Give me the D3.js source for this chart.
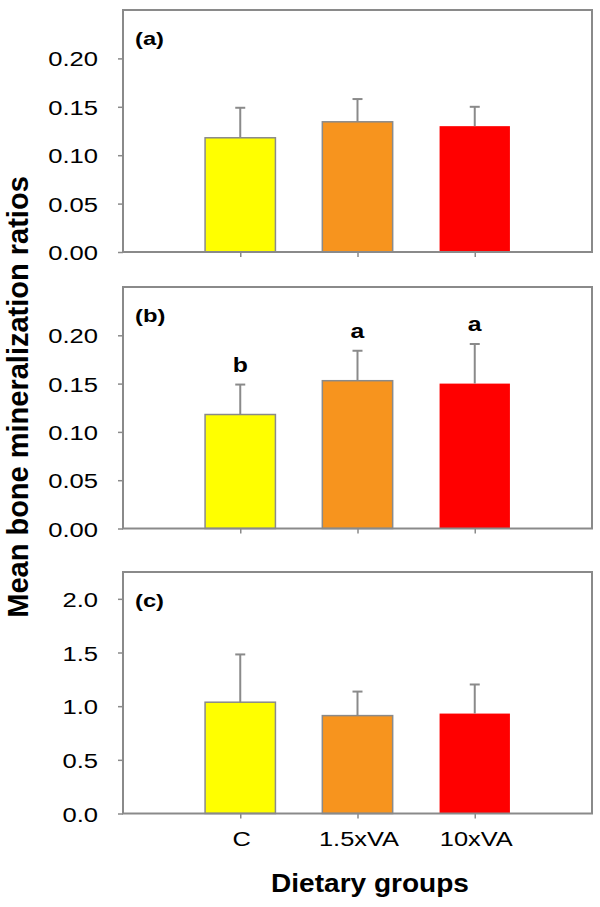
<!DOCTYPE html>
<html>
<head>
<meta charset="utf-8">
<script src="https://cdn.jsdelivr.net/npm/d3@7"></script>
<style>
  html, body { margin: 0; padding: 0; background: #fff; }
  svg { display: block; }
</style>
</head>
<body>
<svg id="chart" width="600" height="907"></svg>
<script>
// ---------- data ----------
const categories = ["C", "1.5xVA", "10xVA"];
const panelLabels = ["(a)", "(b)", "(c)"];
const meansA = [0.118, 0.1345, 0.130];
const errorsA = [0.031, 0.0235, 0.020];
const meansB = [0.118, 0.153, 0.150];
const errorsB = [0.031, 0.031, 0.041];
const meansC = [1.037, 0.912, 0.931];
const errorsC = [0.445, 0.224, 0.271];
const lettersA = ["", "", ""];
const lettersB = ["b", "a", "a"];
const lettersC = ["", "", ""];
const ticksAB = [0, 0.05, 0.10, 0.15, 0.20];
const ticksC = [0, 0.5, 1.0, 1.5, 2.0];
const yMaxes = [0.25, 0.25, 2.25];
const barColors = ["#FFFF00", "#F7941E", "#FF0000"];
const barStrokes = ["#8a8a8a", "#8a8a8a", "none"];
const yTitle = "Mean bone mineralization ratios";
const xTitle = "Dietary groups";

const panels = [
  { label: panelLabels[0], means: meansA, errs: errorsA, letters: lettersA, ticks: ticksAB, fmt: ".2f", yMax: yMaxes[0], top: 10, bottom: 252 },
  { label: panelLabels[1], means: meansB, errs: errorsB, letters: lettersB, ticks: ticksAB, fmt: ".2f", yMax: yMaxes[1], top: 287, bottom: 528.5 },
  { label: panelLabels[2], means: meansC, errs: errorsC, letters: lettersC, ticks: ticksC, fmt: ".1f", yMax: yMaxes[2], top: 572, bottom: 813.5 }
];

// ---------- layout ----------
const left = 123, right = 592;
const gray = "#8a8a8a";
const font = "'Liberation Sans', Arial, sans-serif";
const svg = d3.select("#chart");

const x = d3.scalePoint().domain(categories).range([left, right]).padding(1);
const barW = x.step() * 0.6;

panels.forEach((p, pi) => {
  const y = d3.scaleLinear().domain([0, p.yMax]).range([p.bottom, p.top]);
  const g = svg.append("g");

  // bars
  g.selectAll("rect.bar").data(categories).join("rect")
    .attr("class", "bar")
    .attr("x", d => x(d) - barW / 2)
    .attr("width", barW)
    .attr("y", (d, i) => y(p.means[i]))
    .attr("height", (d, i) => y(0) - y(p.means[i]))
    .attr("fill", (d, i) => barColors[i])
    .attr("stroke", (d, i) => barStrokes[i])
    .attr("stroke-width", 1.5);

  // error bars (upper only)
  g.selectAll("line.err").data(categories).join("line")
    .attr("x1", d => x(d)).attr("x2", d => x(d))
    .attr("y1", (d, i) => y(p.means[i]))
    .attr("y2", (d, i) => y(p.means[i] + p.errs[i]))
    .attr("stroke", gray).attr("stroke-width", 2);
  g.selectAll("line.cap").data(categories).join("line")
    .attr("x1", d => x(d) - 5).attr("x2", d => x(d) + 5)
    .attr("y1", (d, i) => y(p.means[i] + p.errs[i]))
    .attr("y2", (d, i) => y(p.means[i] + p.errs[i]))
    .attr("stroke", gray).attr("stroke-width", 2);

  // significance letters
  g.selectAll("text.sig").data(categories).join("text")
    .attr("transform", (d, i) => `translate(${x(d)},${y(p.means[i] + p.errs[i]) - 13}) scale(1.18,1)`)
    .attr("text-anchor", "middle")
    .attr("font-family", font).attr("font-weight", "bold").attr("font-size", 21)
    .attr("fill", "#000")
    .text((d, i) => p.letters[i]);

  // frame
  g.append("rect")
    .attr("x", left).attr("y", p.top)
    .attr("width", right - left).attr("height", p.bottom - p.top)
    .attr("fill", "none").attr("stroke", gray).attr("stroke-width", 2);

  // y axis
  const ya = g.append("g").attr("transform", `translate(${left},0)`)
    .call(d3.axisLeft(y).tickValues(p.ticks).tickFormat(d3.format(p.fmt)).tickSize(5).tickPadding(0));
  ya.select(".domain").remove();
  ya.selectAll(".tick line").attr("stroke", gray).attr("stroke-width", 1.5);
  ya.selectAll(".tick text")
    .attr("x", null).attr("dy", null)
    .attr("transform", "translate(-25,7.5) scale(1.22,1)")
    .attr("font-family", font).attr("font-size", 21).attr("fill", "#000");

  // x axis ticks
  const xa = g.append("g").attr("transform", `translate(0,${p.bottom})`)
    .call(d3.axisBottom(x).tickSize(5).tickFormat(pi === 2 ? (d => d) : (() => "")));
  xa.select(".domain").remove();
  xa.selectAll(".tick line").attr("stroke", gray).attr("stroke-width", 1.5);
  xa.selectAll(".tick text")
    .attr("y", null).attr("dy", null)
    .attr("transform", "translate(1,32) scale(1.24,1)")
    .attr("font-family", font).attr("font-size", 20.5).attr("fill", "#000");

  // panel label
  g.append("text")
    .attr("transform", `translate(135,${p.top + 35}) scale(1.25,1)`)
    .attr("font-family", font).attr("font-weight", "bold").attr("font-size", 19)
    .attr("fill", "#000")
    .text(p.label);
});

// axis titles
svg.append("text")
  .attr("transform", "translate(28,397) rotate(-90)")
  .attr("text-anchor", "middle")
  .attr("font-family", font).attr("font-weight", "bold").attr("font-size", 29)
  .attr("fill", "#000")
  .text(yTitle);

svg.append("text")
  .attr("transform", "translate(370,891.5) scale(1.1,1)")
  .attr("text-anchor", "middle")
  .attr("font-family", font).attr("font-weight", "bold").attr("font-size", 25.5)
  .attr("fill", "#000")
  .text(xTitle);
</script>
</body>
</html>
